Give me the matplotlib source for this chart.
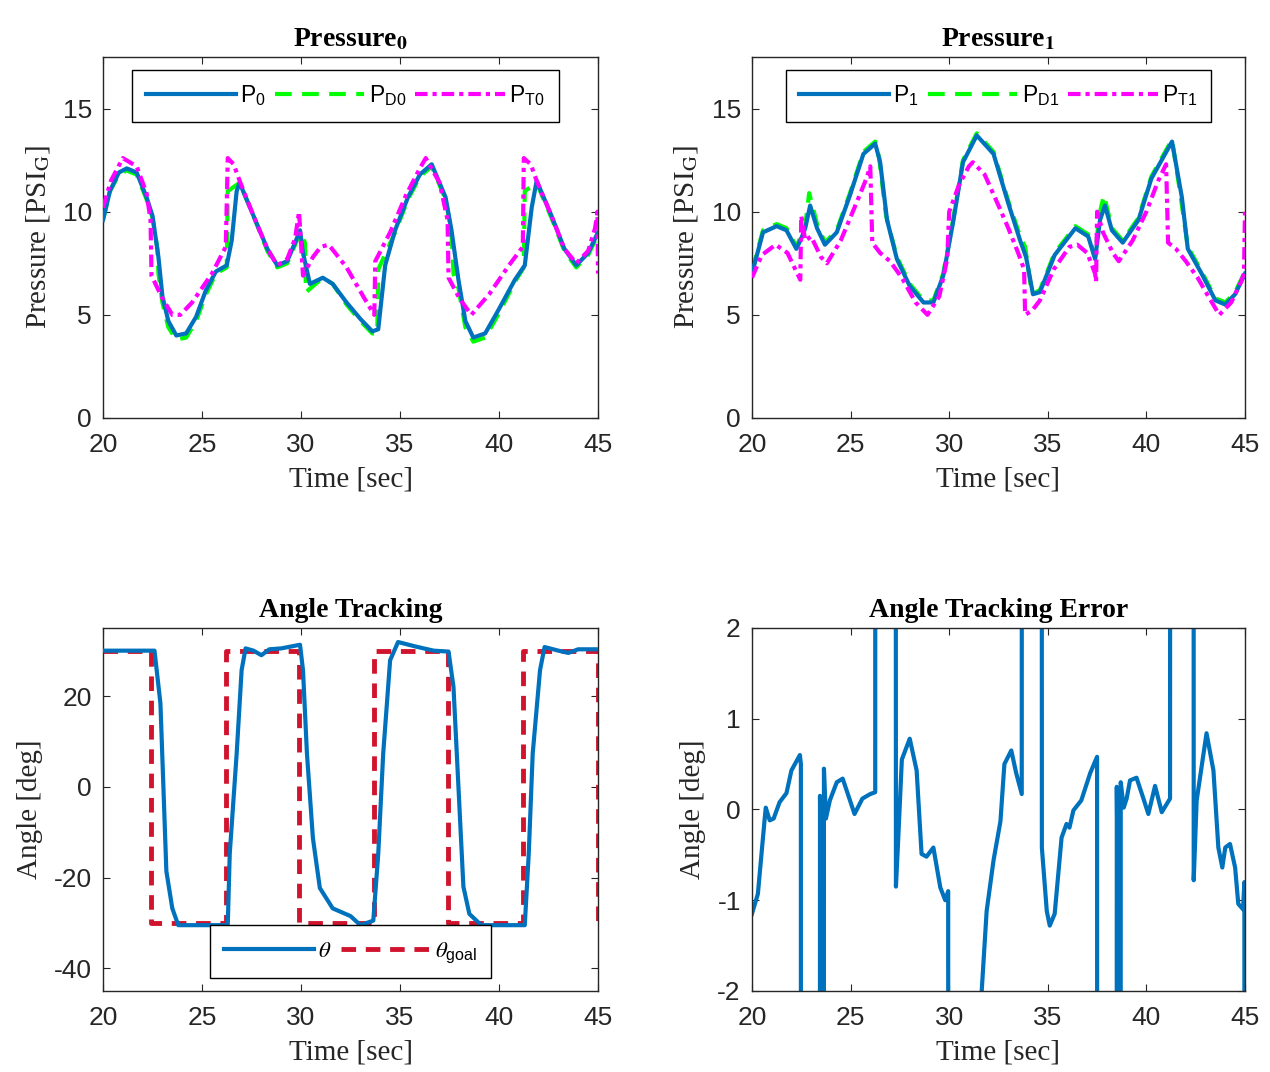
import numpy as np
import matplotlib
matplotlib.use("Agg")
import matplotlib.pyplot as plt

plt.rcParams['mathtext.fontset'] = 'stix'
plt.rcParams['axes.unicode_minus'] = False
SERIF = 'Liberation Serif'
SANS = 'Liberation Sans'

# --- DATA ---
# Pressure 0
t_p0 = [20.0, 20.35, 20.8, 21.2, 21.7, 22.2, 22.5, 22.8, 23.0, 23.3, 23.7, 24.2, 24.7, 25.2, 25.7,
        26.25, 26.5, 26.75, 26.9, 27.6, 28.3, 28.8, 29.3, 29.7, 29.95, 30.1, 30.45, 31.1, 31.6, 32.3,
        33.0, 33.6, 33.9, 34.25, 34.75, 35.4, 36.0, 36.6, 37.3, 37.6, 37.95, 38.3, 38.7, 39.3, 39.95,
        40.8, 41.3, 41.65, 41.9, 42.65, 43.3, 43.9, 44.5, 45.0]
p0 = [9.6, 11.0, 11.9, 12.1, 11.9, 10.7, 9.8, 7.8, 5.9, 4.7, 4.0, 4.1, 4.9, 6.2, 7.1,
      7.4, 8.6, 11.0, 11.4, 9.8, 8.2, 7.4, 7.6, 8.5, 9.1, 8.0, 6.5, 6.8, 6.5, 5.6,
      4.8, 4.2, 4.3, 7.4, 9.1, 10.7, 11.8, 12.3, 10.7, 9.1, 6.7, 4.7, 3.9, 4.1, 5.2,
      6.7, 7.4, 10.2, 11.5, 9.8, 8.2, 7.4, 8.0, 9.0]

t_pd0 = [20.0, 20.35, 20.8, 21.2, 21.7, 22.2, 22.5, 22.75, 22.8, 23.0, 23.3, 23.7, 24.2, 24.7, 25.2,
         25.7, 26.25, 26.3, 26.9, 27.6, 28.3, 28.8, 29.3, 29.7, 29.95, 30.2, 30.25, 31.1, 31.6, 32.3,
         33.0, 33.6, 33.85, 33.9, 34.75, 35.4, 36.0, 36.6, 37.3, 37.6, 37.7, 37.95, 38.3, 38.7, 39.3,
         39.95, 40.8, 41.25, 41.3, 41.9, 42.65, 43.3, 43.9, 44.5, 45.0]
pd0 = [9.6, 11.0, 11.8, 12.0, 11.8, 10.6, 9.7, 8.2, 7.0, 5.6, 4.4, 3.8, 3.9, 4.7, 6.0,
       7.0, 7.3, 11.0, 11.4, 9.8, 8.1, 7.3, 7.5, 8.4, 9.0, 8.5, 6.1, 6.8, 6.5, 5.5,
       4.7, 4.1, 4.1, 7.2, 9.0, 10.6, 11.7, 12.2, 10.6, 9.0, 7.0, 6.3, 4.4, 3.7, 3.9,
       5.0, 6.6, 7.3, 11.0, 11.4, 9.7, 8.1, 7.3, 7.9, 8.9]

t_pt0 = [20.0, 20.4, 21.0, 21.7, 22.2, 22.4, 22.45, 23.0, 23.5, 23.9, 24.5, 25.5, 26.2, 26.3, 26.6,
         26.9, 27.6, 28.3, 28.8, 29.3, 29.7, 29.9, 30.1, 30.6, 31.0, 31.4, 32.3, 33.2, 33.7, 33.75,
         34.5, 35.3, 36.0, 36.3, 37.0, 37.4, 37.45, 38.0, 38.6, 39.5, 40.5, 41.2, 41.25, 41.6, 41.9,
         42.65, 43.3, 43.9, 44.5, 44.85, 44.97, 45.0]
pt0 = [10.2, 11.5, 12.6, 12.2, 10.9, 9.6, 6.9, 5.8, 5.0, 5.0, 5.6, 7.0, 8.3, 12.6, 12.3,
       11.5, 9.8, 8.2, 7.4, 7.7, 8.7, 10.0, 6.9, 7.8, 8.3, 8.4, 7.3, 5.8, 5.0, 7.6,
       9.0, 10.8, 12.1, 12.6, 11.4, 9.6, 6.8, 5.8, 5.0, 6.0, 7.4, 8.3, 12.6, 12.3, 11.5,
       9.8, 8.2, 7.5, 8.1, 9.2, 10.0, 7.0]

# Pressure 1
t_p1 = [20.0, 20.56, 21.25, 21.75, 22.25, 22.5, 22.7, 22.95, 23.3, 23.7, 24.3, 24.97, 25.65, 26.25,
        26.5, 26.85, 27.35, 28.0, 28.7, 29.2, 29.7, 30.2, 30.7, 31.4, 32.25, 33.0, 33.6, 33.9, 34.25,
        34.6, 35.35, 36.4, 37.05, 37.4, 37.65, 37.9, 38.25, 38.8, 39.6, 40.25, 41.3, 41.8, 42.1, 42.8,
        43.5, 44.0, 44.5, 45.0]
p1 = [7.0, 9.0, 9.3, 9.1, 8.2, 8.7, 9.2, 10.3, 9.2, 8.4, 9.0, 10.8, 12.8, 13.3,
      12.4, 9.6, 7.7, 6.4, 5.6, 5.6, 6.9, 9.5, 12.4, 13.7, 12.8, 10.4, 8.6, 7.8, 6.0,
      6.1, 7.9, 9.2, 8.8, 7.7, 9.6, 10.3, 9.1, 8.5, 9.6, 11.6, 13.4, 10.7, 8.2, 7.0,
      5.7, 5.5, 6.0, 7.0]

t_pd1 = [20.0, 20.56, 21.25, 21.75, 22.25, 22.7, 22.9, 23.3, 23.7, 24.3, 24.97, 25.65, 26.25, 26.45,
         26.8, 27.35, 28.0, 28.7, 29.2, 29.7, 30.2, 30.7, 31.4, 32.25, 33.0, 33.6, 33.85, 34.2, 34.6,
         35.35, 36.4, 37.05, 37.4, 37.6, 37.85, 38.25, 38.8, 39.6, 40.25, 41.3, 41.7, 42.1, 42.8, 43.5,
         44.0, 44.5, 45.0]
pd1 = [7.1, 9.1, 9.4, 9.2, 8.3, 9.3, 10.9, 9.4, 8.5, 9.1, 10.9, 12.9, 13.4, 12.6,
       9.8, 7.8, 6.5, 5.7, 5.7, 7.0, 9.6, 12.5, 13.8, 12.9, 10.5, 8.8, 8.3, 6.0, 6.2,
       8.0, 9.3, 8.9, 7.8, 9.8, 10.8, 9.2, 8.6, 9.7, 11.7, 13.5, 11.0, 8.3, 7.1, 5.8,
       5.6, 6.1, 7.1]

t_pt1 = [20.0, 20.5, 21.2, 21.8, 22.2, 22.45, 22.5, 22.7, 23.0, 23.5, 23.8, 24.5, 25.2, 25.8, 26.0,
         26.1, 26.5, 27.0, 27.6, 28.3, 28.9, 29.5, 29.9, 30.0, 30.5, 31.0, 31.2, 31.8, 32.5, 33.0,
         33.5, 33.8, 33.85, 34.2, 34.6, 35.3, 36.1, 36.5, 37.0, 37.4, 37.45, 37.5, 37.8, 38.3, 38.6,
         39.3, 40.0, 40.6, 41.0, 41.1, 41.5, 42.0, 42.6, 43.2, 43.7, 44.3, 44.8, 44.95, 45.0]
pt1 = [6.8, 7.9, 8.4, 8.0, 7.2, 6.7, 9.8, 8.6, 8.8, 7.8, 7.5, 8.6, 10.2, 11.6, 12.2,
       8.5, 8.0, 7.6, 6.8, 5.6, 5.0, 5.9, 7.7, 10.0, 11.3, 12.2, 12.4, 11.8, 10.3, 9.2,
       8.0, 7.2, 5.0, 5.2, 5.7, 7.2, 8.3, 8.4, 8.0, 7.0, 6.6, 10.0, 9.0, 8.0, 7.6,
       8.6, 10.0, 11.5, 12.3, 8.5, 8.2, 7.6, 6.8, 5.8, 5.0, 5.6, 6.6, 7.0, 10.0]

# Angle tracking
goal_switch = [20.0, 22.4, 26.2, 29.9, 33.7, 37.4, 41.2, 45.0]
goal_level = [30, -30, 30, -30, 30, -30, 30, -30]

t_th = [20.0, 22.6, 22.9, 23.05, 23.2, 23.5, 23.8, 26.3, 26.4, 26.75, 27.0, 27.2, 27.6, 28.0, 28.4,
        29.0, 29.95, 30.1, 30.3, 30.6, 30.95, 31.6, 32.5, 33.0, 33.65, 33.9, 34.15, 34.5, 34.9, 35.8,
        36.7, 37.45, 37.7, 37.95, 38.2, 38.5, 39.1, 41.3, 41.5, 41.7, 42.07, 42.3, 43.0, 43.5, 44.0, 45.0]
theta = [30.0, 30.0, 18.4, 0.0, -18.6, -26.8, -30.5, -30.5, -14.8, 7.3, 25.7, 30.5, 30.0, 29.0, 30.3,
         30.5, 31.3, 25.7, 7.3, -11.3, -22.3, -26.8, -28.5, -30.5, -29.5, -14.8, 7.3, 27.9, 31.9, 30.9,
         30.0, 29.8, 22.0, 0.0, -22.0, -28.0, -30.5, -30.5, -14.8, 7.3, 25.7, 30.8, 30.0, 29.5, 30.3, 30.3]

# Angle tracking error
t_err = [20.0, 20.3, 20.65, 20.7, 20.9, 21.1, 21.4, 21.75, 22.0, 22.43, 22.48, 22.5, 23.4, 23.45, 23.5,
         23.55, 23.6, 23.65, 23.75, 23.95, 24.3, 24.6, 24.97, 25.2, 25.6, 26.0, 26.25, 26.3, 27.2, 27.3,
         27.4, 27.6, 28.0, 28.35, 28.6, 28.85, 29.2, 29.55, 29.8, 29.95, 30.0, 30.6, 31.2, 31.65, 31.9,
         32.25, 32.6, 32.8, 33.15, 33.4, 33.68, 33.75, 34.65, 34.7, 34.95, 35.1, 35.35, 35.7, 35.95, 36.1,
         36.3, 36.7, 37.15, 37.5, 37.55, 38.45, 38.5, 38.55, 38.6, 38.65, 38.7, 38.85, 39.0, 39.17, 39.5,
         39.85, 40.1, 40.44, 40.78, 41.2, 41.3, 42.35, 42.4, 42.55, 43.05, 43.4, 43.65, 43.85, 44.0, 44.24,
         44.5, 44.66, 44.9, 44.97, 45.0]
err = [-1.15, -0.93, -0.09, 0.02, -0.12, -0.1, 0.08, 0.18, 0.43, 0.6, 0.5, -60, -60, 0.15, -1.0,
       -60, -60, 0.45, -0.1, 0.1, 0.3, 0.34, 0.1, -0.05, 0.12, 0.17, 0.19, 60, 60, -0.85,
       -0.4, 0.55, 0.78, 0.43, -0.49, -0.52, -0.42, -0.86, -1.0, -0.9, -60, -19, -5, -2.0, -1.12,
       -0.56, -0.13, 0.5, 0.65, 0.4, 0.17, 60, 60, -0.42, -1.12, -1.28, -1.15, -0.31, -0.16, -0.2,
       -0.01, 0.1, 0.4, 0.58, -60, -60, 0.25, -1.0, -60, -60, 0.3, 0.02, 0.12, 0.32, 0.35,
       0.12, -0.05, 0.26, -0.03, 0.12, 60, 60, -0.78, 0.1, 0.84, 0.43, -0.42, -0.64, -0.42, -0.38,
       -0.64, -1.04, -1.1, -0.8, -60]

BLUE = (0.0, 0.447, 0.741)
GREEN = (0.0, 1.0, 0.0)
MAGENTA = (1.0, 0.0, 1.0)
RED = (0.82, 0.08, 0.18)
TXT = '#262626'

fig = plt.figure(figsize=(12.7, 10.72), dpi=100)
ax1 = fig.add_axes([0.0811, 0.6101, 0.3898, 0.3367])
ax2 = fig.add_axes([0.5921, 0.6101, 0.3882, 0.3367])
ax3 = fig.add_axes([0.0811, 0.0756, 0.3898, 0.3386])
ax4 = fig.add_axes([0.5921, 0.0756, 0.3882, 0.3386])


def style(ax, title, ylabel):
    ax.set_xlim(20, 45)
    ax.set_xticks([20, 25, 30, 35, 40, 45])
    ax.tick_params(direction='in', top=True, right=True, labelsize=19, colors=TXT,
                   length=5, width=0.8)
    ax.tick_params(axis='x', pad=11)
    ax.tick_params(axis='y', pad=8)
    for lab in ax.get_xticklabels() + ax.get_yticklabels():
        lab.set_fontfamily(SANS)
        lab.set_color(TXT)
    for s in ax.spines.values():
        s.set_linewidth(1.0)
        s.set_color('#262626')
    ax.set_title(title, fontfamily=SERIF, fontweight='bold', fontsize=20, pad=8)
    ax.set_xlabel('Time [sec]', fontfamily=SERIF, fontsize=21, color=TXT, labelpad=7)
    ax.set_ylabel(ylabel, fontfamily=SERIF, fontsize=21, color=TXT, labelpad=8)


def boxed_legend(ax, loc, ncol, anchor):
    leg = ax.legend(loc=loc, ncol=ncol, bbox_to_anchor=anchor,
                    prop={'family': SANS, 'size': 16.5}, handlelength=3.9,
                    columnspacing=0.4, handletextpad=0.2, borderpad=0.6,
                    fancybox=False, framealpha=1)
    leg.get_frame().set_edgecolor('black')
    leg.get_frame().set_linewidth(1.0)
    return leg


# Pressure 0
ax1.plot(t_p0, p0, color=BLUE, lw=3, label=r'$\mathregular{P_0}$', zorder=3)
ax1.plot(t_pd0, pd0, color=GREEN, lw=3, ls=(0, (4, 2.5)), label=r'$\mathregular{P_{D0}}$', zorder=2)
ax1.plot(t_pt0, pt0, color=MAGENTA, lw=3, ls=(0, (3, 1.2, 1, 1.2)), label=r'$\mathregular{P_{T0}}$', zorder=4)
ax1.set_ylim(0, 17.5)
ax1.set_yticks([0, 5, 10, 15])
style(ax1, r'Pressure$_\mathbf{0}$', r'Pressure [PSI$_\mathrm{G}$]')
boxed_legend(ax1, 'upper center', 3, (0.49, 0.997))

# Pressure 1
ax2.plot(t_p1, p1, color=BLUE, lw=3, label=r'$\mathregular{P_1}$', zorder=3)
ax2.plot(t_pd1, pd1, color=GREEN, lw=3, ls=(0, (4, 2.5)), label=r'$\mathregular{P_{D1}}$', zorder=2)
ax2.plot(t_pt1, pt1, color=MAGENTA, lw=3, ls=(0, (3, 1.2, 1, 1.2)), label=r'$\mathregular{P_{T1}}$', zorder=4)
ax2.set_ylim(0, 17.5)
ax2.set_yticks([0, 5, 10, 15])
style(ax2, r'Pressure$_\mathbf{1}$', r'Pressure [PSI$_\mathrm{G}$]')
boxed_legend(ax2, 'upper center', 3, (0.5, 0.997))

# Angle tracking
goal_t = np.repeat(goal_switch, 2)[1:-1]
goal_v = np.repeat(goal_level[:-1], 2)
goal_t = np.append(goal_t, goal_switch[-1])
goal_v = np.append(goal_v, goal_level[-1])
ax3.plot(t_th, theta, color=BLUE, lw=3, label=r'$\theta$', zorder=3)
ax3.plot(goal_t, goal_v, color=RED, lw=3.5, ls=(0, (3, 2)), label=r'$\theta_{\mathregular{goal}}$', zorder=2)
ax3.set_ylim(-45, 35)
ax3.set_yticks([-40, -20, 0, 20])
style(ax3, 'Angle Tracking', 'Angle [deg]')
boxed_legend(ax3, 'lower center', 2, (0.5, 0.003))

# Angle tracking error
ax4.plot(t_err, err, color=BLUE, lw=3)
ax4.set_ylim(-2, 2)
ax4.set_yticks([-2, -1, 0, 1, 2])
style(ax4, 'Angle Tracking Error', 'Angle [deg]')

fig.savefig('out.png', dpi=100)
